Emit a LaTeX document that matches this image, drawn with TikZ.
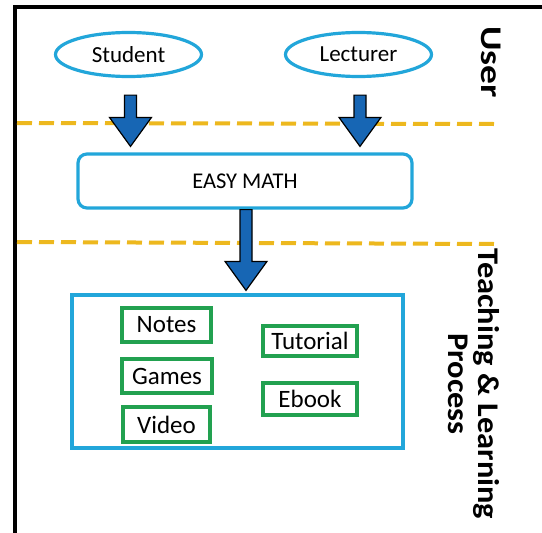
\documentclass[tikz,border=0pt]{standalone}
\usepackage{fontspec}
\setmainfont{Carlito}
\usetikzlibrary{shapes.geometric,calc}
\definecolor{cyanb}{HTML}{22A6DA}
\definecolor{arrowb}{HTML}{1766B4}
\definecolor{greenb}{HTML}{22A150}
\definecolor{gold}{HTML}{EDB81E}
\tikzset{
  user/.style={ellipse,draw=cyanb,line width=3.2pt,minimum width=146pt,minimum height=44pt,inner sep=0pt,font=\fontsize{23}{26}\selectfont},
  item/.style={draw=greenb,line width=3.2pt,inner sep=0pt,font=\fontsize{25}{28}\selectfont},
  sep/.style={draw=gold,line width=4pt,dash pattern=on 15pt off 7pt},
  barrow/.style={fill=arrowb,draw=black,line width=1.2pt,line join=miter},
  lbl/.style={font=\bfseries\fontsize{30}{30}\selectfont,rotate=-90,align=center}
}
\begin{document}
\begin{tikzpicture}[x=1pt,y=-1pt]
\useasboundingbox (0,0) rectangle (542,533);
\fill[white] (0,0) rectangle (542,533);
% frame
\draw[line width=3.5pt] (15,533) -- (15,7) -- (542,7);
% separators
\coordinate (d1a) at (17,123); \coordinate (d1b) at (494,124);
\coordinate (d2a) at (17,242); \coordinate (d2b) at (494,244);
\draw[sep] (d1a) -- (d1b);
\draw[sep] (d2a) -- (d2b);
% users
\node[user] (stu) at (128.5,54.5) {Student};
\node[user] (lec) at (358.5,54.5) {Lecturer};
% easy math
\node[draw=cyanb,line width=3.2pt,rounded corners=9pt,minimum width=334pt,minimum height=54pt,inner sep=0pt,font=\fontsize{22.5}{24}\selectfont] (em) at (245,181) {EASY MATH};
% teaching box
\node[draw=cyanb,line width=3.2pt,minimum width=331pt,minimum height=153pt,inner sep=0pt] (tl) at (237.5,371.5) {};
\node[item,minimum width=89pt,minimum height=34pt] (notes) at (166.5,325) {Notes};
\node[item,minimum width=90pt,minimum height=34pt] (games) at (167,376) {Games};
\node[item,minimum width=87pt,minimum height=35pt] (video) at (166.5,424.5) {Video};
\node[item,minimum width=94pt,minimum height=30pt] (tut) at (310,341) {Tutorial};
\node[item,minimum width=94pt,minimum height=32pt] (ebook) at (310,399) {Ebook};
% block arrows
\coordinate (a1s) at ($(stu.south)+(2,17)$);
\coordinate (a1t) at ($(em.north)!(a1s)!(em.north east)+(0,-6)$);
\coordinate (a2s) at ($(lec.south)+(1.5,17)$);
\coordinate (a2t) at ($(em.north)!(a2s)!(em.north east)+(0,-6)$);
\coordinate (a3s) at ($(em.south)+(1,0)$);
\coordinate (a3t) at ($(tl.north)+(8,-3)$);
\foreach \s/\t in {a1s/a1t,a2s/a2t,a3s/a3t}{
  \draw[barrow] ($(\s)+(-6,0)$) -- ($(\s|-\t)+(-6,-29)$) -- ($(\s|-\t)+(-21,-29)$)
     -- (\s|-\t) -- ($(\s|-\t)+(21,-29)$) -- ($(\s|-\t)+(6,-29)$) -- ($(\s)+(6,0)$) -- cycle;
}
% labels
\node[lbl] (usr) at (491,62) {\scalebox{1.25}[1]{User}};
\node[lbl] (tlp) at (474,384) {\scalebox{1.08}[1]{Teaching \& Learning}\\\scalebox{1.08}[1]{Process}};
\end{tikzpicture}
\end{document}
